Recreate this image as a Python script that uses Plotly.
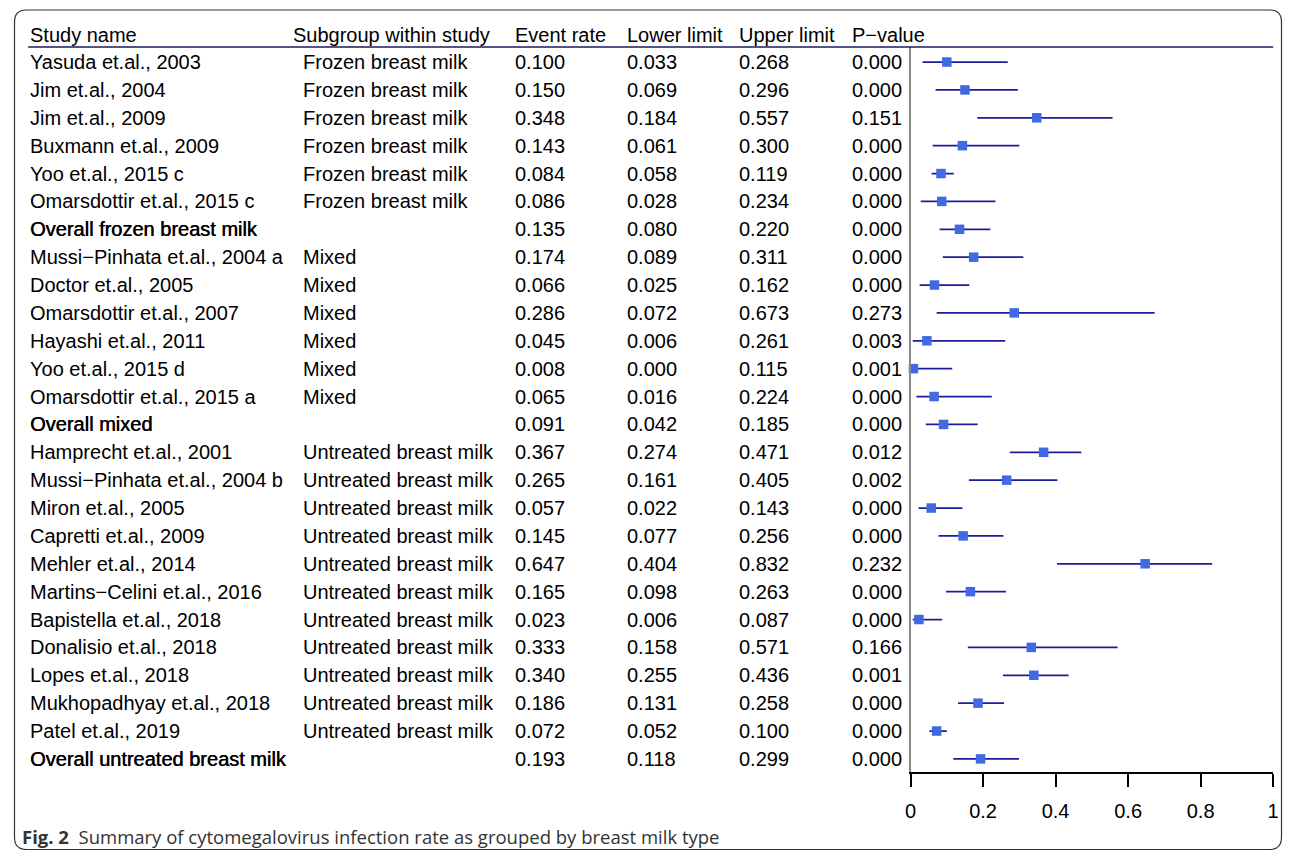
import plotly.graph_objects as go

# The page adds an 8px body margin, so the figure is 16px smaller than the window
W, H = 1280, 842
OFF = 8
SX = 0.989  # horizontal calibration measured from the previous render

study_names = [
    "Yasuda et.al., 2003", "Jim et.al., 2004", "Jim et.al., 2009", "Buxmann et.al., 2009",
    "Yoo et.al., 2015 c", "Omarsdottir et.al., 2015 c", "Overall frozen breast milk",
    "Mussi\u2212Pinhata et.al., 2004 a", "Doctor et.al., 2005", "Omarsdottir et.al., 2007",
    "Hayashi et.al., 2011", "Yoo et.al., 2015 d", "Omarsdottir et.al., 2015 a", "Overall mixed",
    "Hamprecht et.al., 2001", "Mussi\u2212Pinhata et.al., 2004 b", "Miron et.al., 2005",
    "Capretti et.al., 2009", "Mehler et.al., 2014", "Martins\u2212Celini et.al., 2016",
    "Bapistella et.al., 2018", "Donalisio et.al., 2018", "Lopes et.al., 2018",
    "Mukhopadhyay et.al., 2018", "Patel et.al., 2019", "Overall untreated breast milk",
]
F, M, U = "Frozen breast milk", "Mixed", "Untreated breast milk"
subgroups = [F] * 6 + [""] + [M] * 6 + [""] + [U] * 11 + [""]
event_rate = [0.100, 0.150, 0.348, 0.143, 0.084, 0.086, 0.135,
              0.174, 0.066, 0.286, 0.045, 0.008, 0.065, 0.091,
              0.367, 0.265, 0.057, 0.145, 0.647, 0.165, 0.023, 0.333, 0.340, 0.186, 0.072, 0.193]
lower_limit = [0.033, 0.069, 0.184, 0.061, 0.058, 0.028, 0.080,
               0.089, 0.025, 0.072, 0.006, 0.000, 0.016, 0.042,
               0.274, 0.161, 0.022, 0.077, 0.404, 0.098, 0.006, 0.158, 0.255, 0.131, 0.052, 0.118]
upper_limit = [0.268, 0.296, 0.557, 0.300, 0.119, 0.234, 0.220,
               0.311, 0.162, 0.673, 0.261, 0.115, 0.224, 0.185,
               0.471, 0.405, 0.143, 0.256, 0.832, 0.263, 0.087, 0.571, 0.436, 0.258, 0.100, 0.299]
p_value = [0.000, 0.000, 0.151, 0.000, 0.000, 0.000, 0.000,
           0.000, 0.000, 0.273, 0.003, 0.001, 0.000, 0.000,
           0.012, 0.002, 0.000, 0.000, 0.232, 0.000, 0.000, 0.166, 0.001, 0.000, 0.000, 0.000]
headers = ["Study name", "Subgroup within study", "Event rate", "Lower limit", "Upper limit", "P\u2212value"]
tick_vals = [0, 0.2, 0.4, 0.6, 0.8, 1]
tick_text = ["0", "0.2", "0.4", "0.6", "0.8", "1"]
caption_label = "Fig. 2"
caption_text = "Summary of cytomegalovirus infection rate as grouped by breast milk type"

rows = list(range(1, len(study_names) + 1))


def px(x):  # target screen pixel -> paper x
    xp = (x - OFF) / SX - OFF
    return min(max(xp, 0.5), W - 0.5) / W


def py(y):  # target screen pixel -> paper y
    return 1 - (y - OFF) / H


FONT = "Liberation Sans, Arial, sans-serif"
FS = 20
BOLD_SHADOW = "0.5px 0px 0px #000"

fig = go.Figure()
fig.add_trace(go.Scatter(
    x=event_rate, y=rows, mode="markers",
    marker=dict(symbol="square", size=9.5, color="#4169E1", line=dict(width=0)),
    error_x=dict(type="data", symmetric=False,
                 array=[u - e for u, e in zip(upper_limit, event_rate)],
                 arrayminus=[e - l for e, l in zip(event_rate, lower_limit)],
                 color="#1c1c9c", thickness=1.7, width=0),
    cliponaxis=False, showlegend=False, hoverinfo="skip",
))

head_x = [30, 292, 514, 626, 738, 851]
val_x = [30, 302, 514, 626, 738, 851]
ann = []
for h, cx in zip(headers, head_x):
    ann.append(dict(x=px(cx), y=py(35), xref="paper", yref="paper", text=h, showarrow=False,
                    xanchor="left", yanchor="middle", font=dict(family=FONT, size=FS, color="black")))
for i, r in enumerate(rows):
    bold = study_names[i].startswith("Overall")
    vals = [study_names[i], subgroups[i], f"{event_rate[i]:.3f}", f"{lower_limit[i]:.3f}",
            f"{upper_limit[i]:.3f}", f"{p_value[i]:.3f}"]
    for j, (v, cx) in enumerate(zip(vals, val_x)):
        if v == "":
            continue
        f = dict(family=FONT, size=FS, color="black")
        if bold and j == 0:
            f["shadow"] = BOLD_SHADOW
        ann.append(dict(x=px(cx), y=r, xref="paper", yref="y", text=v, showarrow=False,
                        xanchor="left", yanchor="middle", font=f))

ann.append(dict(x=px(22), y=py(836), xref="paper", yref="paper", showarrow=False,
                xanchor="left", yanchor="middle",
                text=f"<b>{caption_label}</b>  {caption_text}",
                font=dict(family="Open Sans, Noto Sans, sans-serif", size=18.5, color="#333")))

# rounded border box
x0, x1, y0, y1, rr = px(10), px(1292), py(10), py(849.5), 12
rx, ry = rr / W, rr / H
border = (f"M {x0+rx},{y0} L {x1-rx},{y0} Q {x1},{y0} {x1},{y0-ry} "
          f"L {x1},{y1+ry} Q {x1},{y1} {x1-rx},{y1} L {x0+rx},{y1} Q {x0},{y1} {x0},{y1+ry} "
          f"L {x0},{y0-ry} Q {x0},{y0} {x0+rx},{y0} Z")

shapes = [
    dict(type="path", path=border, xref="paper", yref="paper", line=dict(color="#333", width=1.2)),
    dict(type="line", xref="paper", yref="paper", x0=px(30), x1=px(1273), y0=py(47), y1=py(47),
         line=dict(color="#1a1a5e", width=1.5)),
]

fig.update_layout(
    width=W, height=H, margin=dict(l=0, r=0, t=0, b=0),
    paper_bgcolor="white", plot_bgcolor="white",
    xaxis=dict(domain=[px(911), px(1273)], range=[0, 1], showline=True, linecolor="black", linewidth=1.5,
               ticks="outside", ticklen=13, tickwidth=1.5, tickcolor="black", ticklabelstandoff=7,
               tickvals=tick_vals, ticktext=tick_text, showgrid=False, zeroline=False,
               tickfont=dict(family=FONT, size=FS, color="black")),
    yaxis=dict(domain=[py(772), py(47)], range=[26.47, 0.46], showline=True, linecolor="#888",
               linewidth=1.5, showticklabels=False, ticks="", showgrid=False, zeroline=False),
    annotations=ann, shapes=shapes,
)

fig.write_html("out.html")
